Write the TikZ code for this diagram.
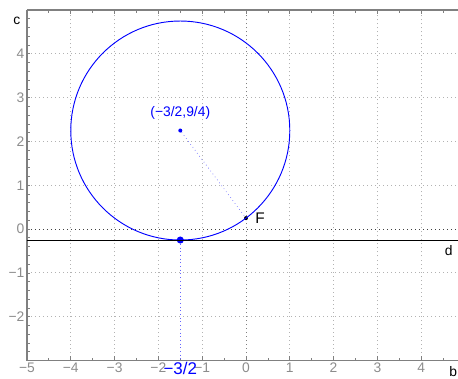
\documentclass[tikz,border=0pt]{standalone}
\usepackage{fontspec}
\setmainfont{Liberation Sans}
\usetikzlibrary{positioning}

\begin{document}
\begin{tikzpicture}[
  x=1cm, y=1cm,
  font=\fontsize{9}{10}\selectfont,
  gridline/.style={gray!60, dotted, line width=0.6pt},
  axisline/.style={black!75, dotted, line width=0.6pt},
  frame/.style={gray, line width=0.8pt},
  ticklab/.style={text=gray!90, inner sep=1.5pt},
  pt/.style={circle, fill, inner sep=0pt, minimum size=#1},
  curve/.style={blue, line width=0.6pt}
]
  \useasboundingbox (-5.616,-3.41) rectangle (4.84,5.23);

  % grid
  \foreach \x in {-4,...,-1,1,2,3,4}
    \draw[gridline] (\x,-3) -- (\x,5);
  \foreach \y in {-2,-1,1,2,3,4}
    \draw[gridline] (-5,\y) -- (4.84,\y);
  \draw[axisline, gray] (0,-3) -- (0,5);
  \draw[axisline] (-5,0) -- (4.84,0);

  % frame and ticks
  \draw[frame] (-5,5) -- (-5,-3) -- (4.84,-3);
  \draw[frame] (-5,5) -- (4.84,5);
  \foreach \x in {-4.5,-3.5,...,4.5} {
    \draw[frame, line width=0.5pt] (\x,-3) -- ++(0,0.06);
    \draw[frame, line width=0.5pt] (\x,5) -- ++(0,-0.06);
  }
  \foreach \x in {-4,...,4} {
    \draw[frame, line width=0.5pt] (\x,-3) -- ++(0,0.1);
    \draw[frame, line width=0.5pt] (\x,5) -- ++(0,-0.1);
  }
  \foreach \y in {-2.8,-2.6,...,4.9}
    \draw[frame, line width=0.5pt] (-5,\y) -- ++(0.06,0);

  % tick labels
  \foreach \x/\t in {-5/−5,-4/−4,-3/−3,-2/−2,-1/−1,0/0,1/1,2/2,3/3,4/4}
    \node[ticklab, below] (xl\x) at (\x,-3) {\t};
  \foreach \y/\t in {-2/−2,-1/−1,0/0,1/1,2/2,3/3,4/4}
    \node[ticklab, left] (yl\y) at (-5,\y) {\t};
  \node (blab) at (4.73,-3.25) {b};
  \node (clab) at (-5.23,4.75) {c};

  % points
  \node[pt=2.6pt, blue] (ctr) at (-1.5,2.25) {};
  \node[pt=2.6pt, black] (F) at (0,0.25) {};
  \node[pt=4.6pt, blue] (T) at (-1.5,-0.25) {};
  \coordinate (Tb) at (-1.5,-3);
  \coordinate (dl) at (-5,-0.25);
  \coordinate (dr) at (4.84,-0.25);

  % circle, directrix and connectors
  \draw[curve] (ctr.center) circle (2.5);
  \draw[black, line width=0.55pt] (dl) -- (dr);
  \draw[blue!70, dotted] (ctr) -- (F);
  \draw[blue!60, dotted] (T) -- (Tb);

  % labels
  \node[blue, above=2pt of ctr] (ctrlab) {(−3/2,9/4)};
  \node[right=1pt of F, font=\fontsize{10}{11}\selectfont] (Flab) {F};
  \node (dlab) at (4.63,-0.48) {d};
  \node[blue, below, inner sep=1pt, font=\fontsize{11}{12}\selectfont] (Tlab) at (Tb) {−3/2};
\end{tikzpicture}
\end{document}
